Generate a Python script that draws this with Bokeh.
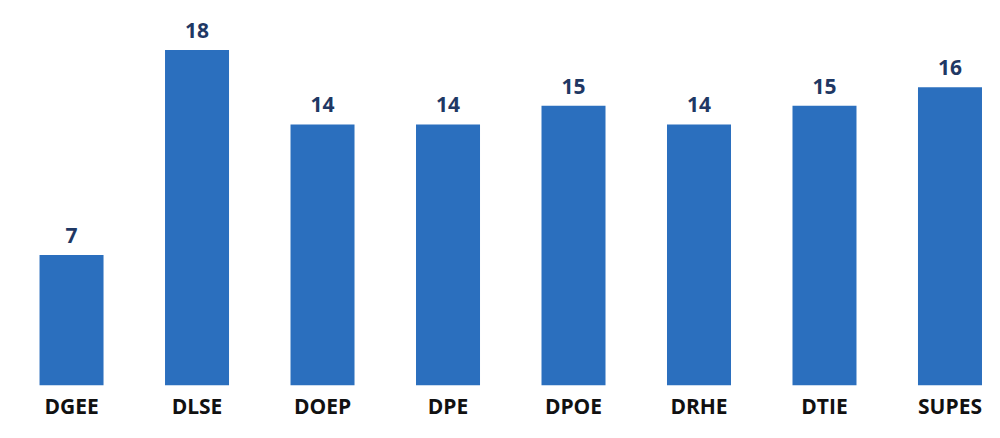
from bokeh.plotting import figure
from bokeh.models import ColumnDataSource, Range1d, FixedTicker
from bokeh.core.properties import value
from bokeh.embed import file_html
from bokeh.resources import INLINE

categories = ["DGEE", "DLSE", "DOEP", "DPE", "DPOE", "DRHE", "DTIE", "SUPES"]
counts = [7, 18, 14, 14, 15, 14, 15, 16]

xs = list(range(len(categories)))
src = ColumnDataSource(dict(x=xs, top=counts, label=[str(c) for c in counts]))

p = figure(width=984, height=422, output_backend="svg", toolbar_location=None,
           x_range=Range1d(-0.566, 7.275), y_range=Range1d(0, 20.65),
           min_border_left=0, min_border_right=0, min_border_top=0, min_border_bottom=0)
p.vbar(x="x", top="top", width=0.51, bottom=0, source=src,
       fill_color="#2b6fbe", line_color=None)
p.text(x="x", y="top", text="label", source=src, text_align="center",
       text_baseline="bottom", y_offset=-12, text_font=value("Open Sans"),
       text_font_style="bold", text_font_size="21px", text_color="#1f3864")

p.xaxis.ticker = FixedTicker(ticks=xs)
p.xaxis.major_label_overrides = {i: c for i, c in enumerate(categories)}
p.xaxis.major_label_text_font = "Open Sans"
p.xaxis.major_label_text_font_style = "bold"
p.xaxis.major_label_text_font_size = "21px"
p.xaxis.major_label_text_color = "#111111"
p.xaxis.major_label_standoff = 6
p.xaxis.major_tick_out = 0
p.xaxis.major_tick_in = 0
p.xaxis.axis_line_color = None
p.xaxis.major_tick_line_color = None
p.xaxis.minor_tick_line_color = None
p.yaxis.visible = False
p.xgrid.visible = False
p.ygrid.visible = False
p.outline_line_color = None

open("out.html", "w").write(file_html(p, INLINE))
